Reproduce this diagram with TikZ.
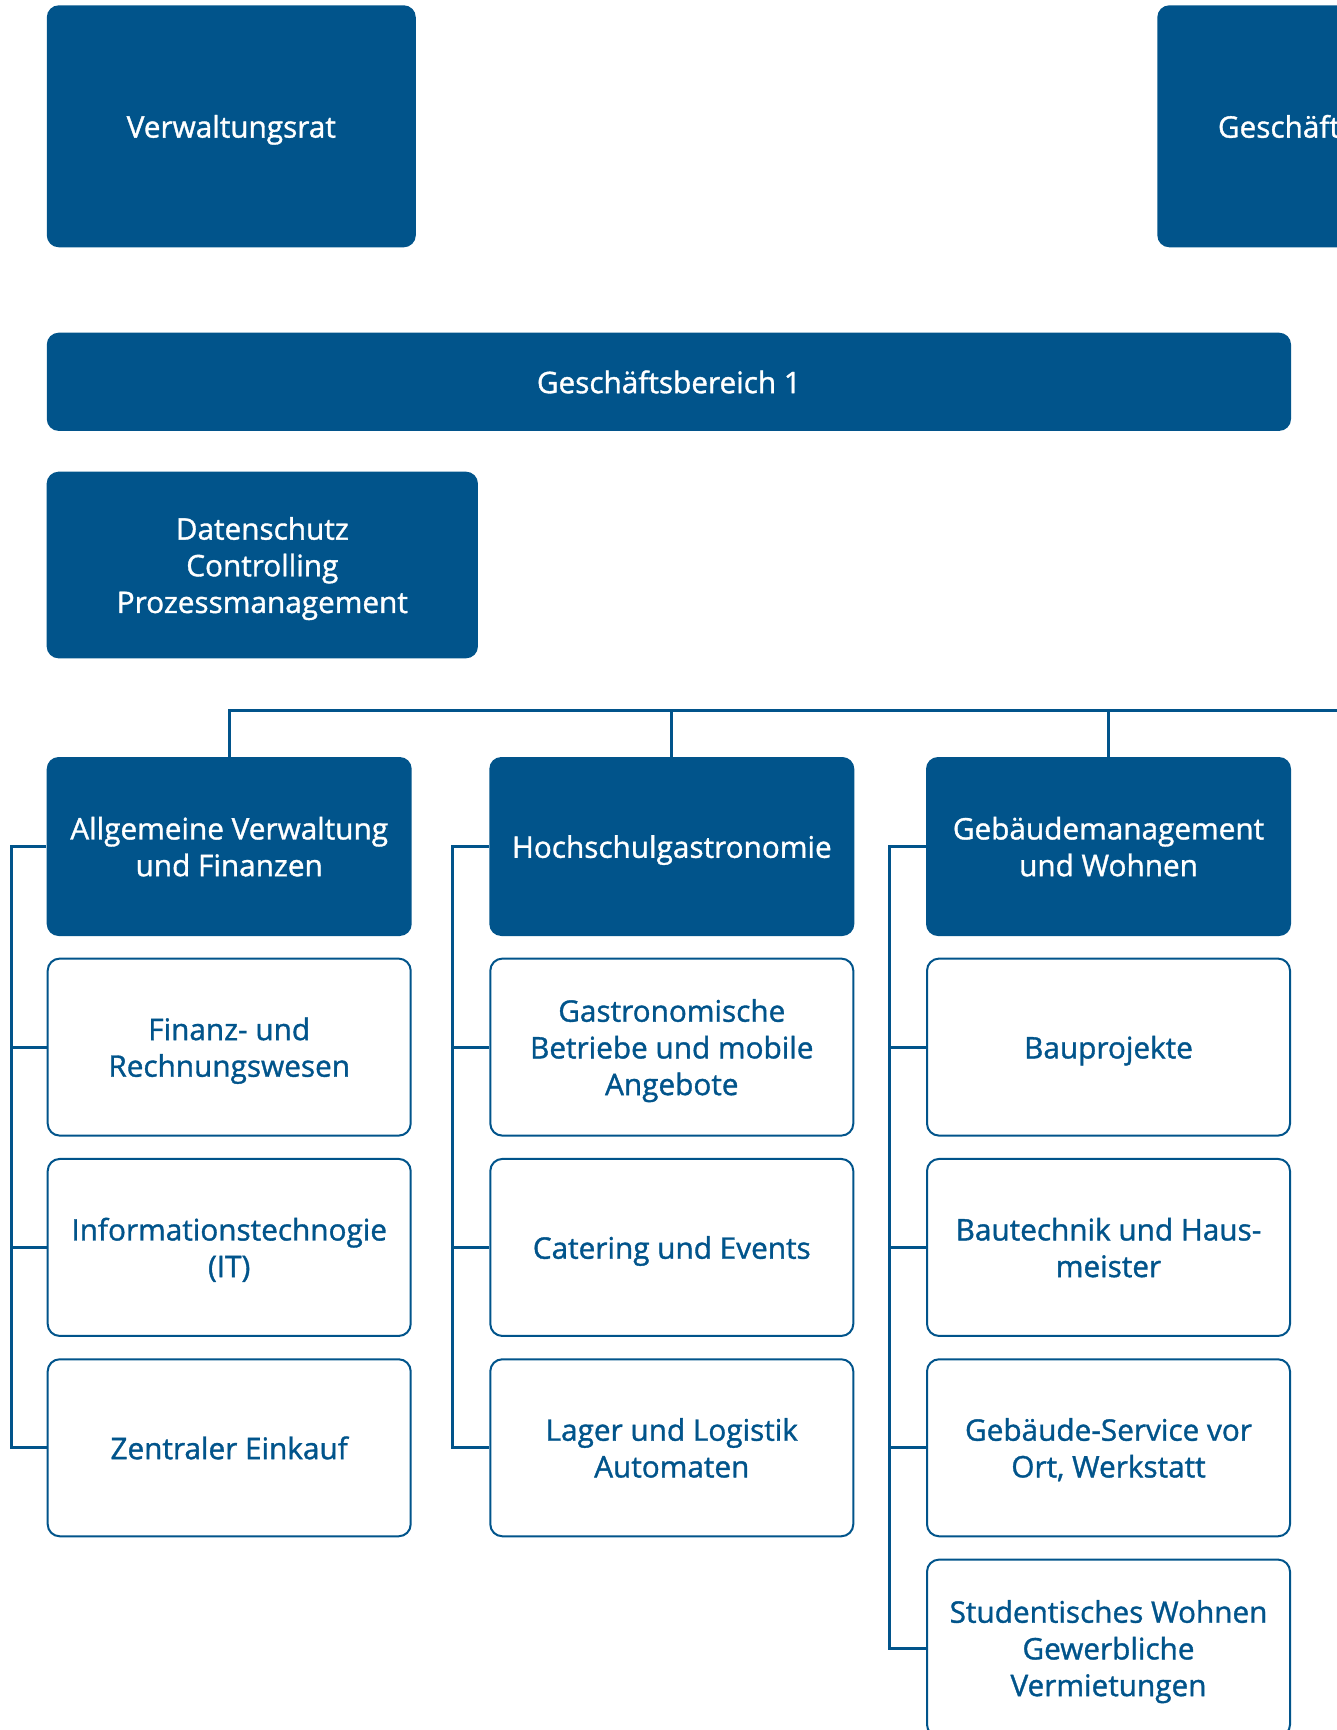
\documentclass[tikz,border=0pt]{standalone}
\usepackage{fontspec}
\setmainfont{Open Sans}[FakeBold=1.2]
\usepackage{xcolor}
\definecolor{Uni Blue}{HTML}{01548B}
\colorlet{cBlue}{Uni Blue}
\usetikzlibrary{positioning}
\tikzset{
	node distance = 16pt,
	font = \fontsize{22.3pt}{27.5pt}\selectfont,
	unit/.style={
		fill=cBlue,
		text=white,
		rounded corners=9pt,
		align=center,
		text depth=0pt,
		inner sep=0pt
	},
	dept/.style={
		unit,
		minimum width=273.75pt,
		minimum height=134.25pt
	},
	section/.style={
		draw=cBlue,
		line width=1.5pt,
		text=cBlue,
		rounded corners=9pt,
		align=center,
		text depth=0pt,
		inner sep=0pt,
		minimum width=272.25pt,
		minimum height=132.75pt
	},
	link/.style={
		draw=cBlue,
		line width=2.25pt
	}
}

\begin{document}
\begin{tikzpicture}[x=0.75pt, y=-0.75pt]
		\useasboundingbox (0,0) rectangle (1337,1730);
		\clip (0,0) rectangle (1337,1730);

		% top level
		\node[unit, minimum width=276.75pt, minimum height=181.5pt] (vr) at (231.3,126.3) {Verwaltungsrat};
		\node[unit, minimum width=276.75pt, minimum height=181.5pt] (gf) at (1341.8,126.3) {Geschäftsführung};
		\node[unit, minimum width=933.2pt, minimum height=73.7pt] (gb1) at (668.9,381.8) {Geschäftsbereich 1};
		\node[unit, minimum width=323.5pt, minimum height=140pt] (stab) at (262.3,565) {Datenschutz\\Controlling\\Prozessmanagement};

		% departments
		\node[dept] (verw) at (229.2,846.5) {Allgemeine Verwaltung\\und Finanzen};
		\node[dept] (gast) at (671.8,846.5) {Hochschulgastronomie};
		\node[dept] (geb) at (1108.5,846.5) {Gebäudemanagement\\und Wohnen};

		\node[section, below=of verw] (fin) {Finanz- und\\Rechnungswesen};
		\node[section, below=of fin] (it) {Informationstechnogie\\(IT)};
		\node[section, below=of it] (eink) {Zentraler Einkauf};

		\node[section, below=of gast] (betr) {Gastronomische\\Betriebe und mobile\\Angebote};
		\node[section, below=of betr] (cat) {Catering und Events};
		\node[section, below=of cat] (lager) {Lager und Logistik\\Automaten};

		\node[section, below=of geb] (bau) {Bauprojekte};
		\node[section, below=of bau] (haus) {Bautechnik und Haus-\\meister};
		\node[section, below=of haus] (serv) {Gebäude-Service vor\\Ort, Werkstatt};
		\node[section, below=of serv] (wohn) {Studentisches Wohnen\\Gewerbliche\\Vermietungen};

		% bus
		\coordinate (bus) at (1345,710.7);
		\draw[link] (verw.north) |- (bus);
		\draw[link] (gast.north) -- (gast.north |- bus);
		\draw[link] (geb.north) -- (geb.north |- bus);

		% side brackets
		\coordinate[left=26.5pt of verw.west] (s1);
		\coordinate[left=27.5pt of gast.west] (s2);
		\coordinate[left=27pt of geb.west] (s3);
		\draw[link] (verw.west) -- (s1) |- (eink.west);
		\draw[link] (gast.west) -- (s2) |- (lager.west);
		\draw[link] (geb.west) -- (s3) |- (wohn.west);
		\foreach \n in {fin, it} \draw[link] (\n.west) -- (\n.west -| s1);
		\foreach \n in {betr, cat} \draw[link] (\n.west) -- (\n.west -| s2);
		\foreach \n in {bau, haus, serv} \draw[link] (\n.west) -- (\n.west -| s3);
	\end{tikzpicture}
\end{document}
